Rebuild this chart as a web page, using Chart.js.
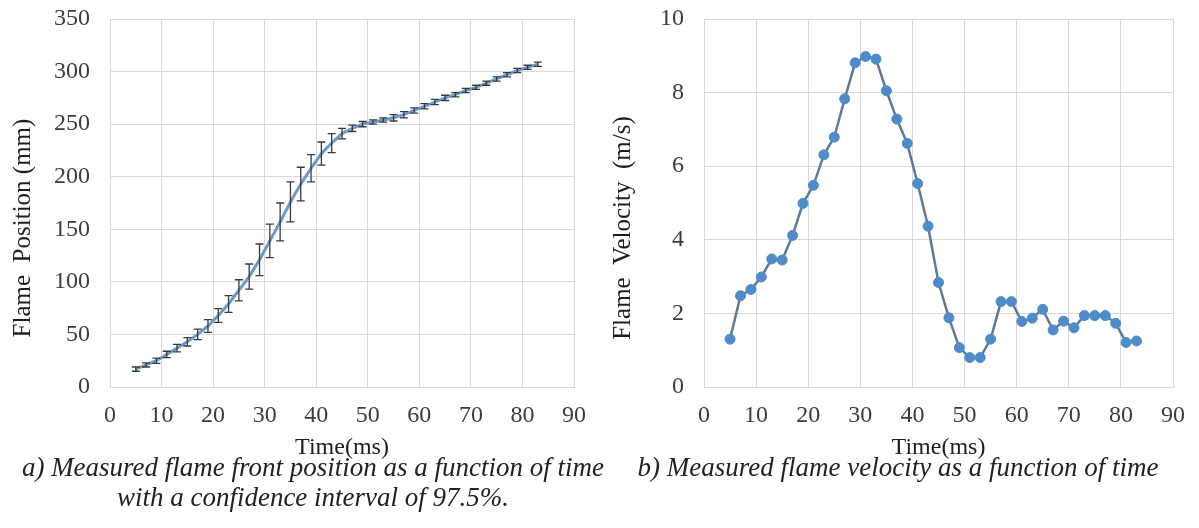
<!DOCTYPE html>
<html>
<head>
<meta charset="utf-8">
<script src="https://cdn.jsdelivr.net/npm/chart.js@4.4.1/dist/chart.umd.min.js"></script>
<style>
  body { margin: 0; background: #fff; width: 1199px; height: 528px; overflow: hidden; position: relative; font-family: "Liberation Serif", "Times New Roman", serif; }
  .box { position: absolute; top: 0; height: 462px; }
  #left { left: 0; width: 600px; }
  #right { left: 600px; width: 599px; }
  .cap { position: absolute; font-style: italic; font-size: 27px; color: #222; white-space: nowrap; text-align: center; line-height: 30px; }
</style>
</head>
<body>
<div class="box" id="left"><canvas id="posChart"></canvas></div>
<div class="box" id="right"><canvas id="velChart"></canvas></div>
<div class="cap" style="left:0;width:626px;top:452px">a) Measured flame front position as a function of time</div>
<div class="cap" style="left:0;width:626px;top:482px">with a confidence interval of 97.5%.</div>
<div class="cap" style="left:600px;width:596px;top:452px">b) Measured flame velocity as a function of time</div>

<script>
// Time (ms) of each measurement
const times = [5, 7, 9, 11, 13, 15, 17, 19, 21, 23, 25, 27, 29, 31, 33, 35, 37, 39, 41, 43,
  45, 47, 49, 51, 53, 55, 57, 59, 61, 63, 65, 67, 69, 71, 73, 75, 77, 79, 81, 83];

// Flame front position (mm) and its 97.5% confidence half-width (mm)
const position = [17, 21, 25, 31, 37, 43, 50, 58, 68, 79, 92, 105, 121, 139, 157, 176, 193, 208, 222, 232,
  241, 246, 250, 252, 254, 256, 259, 263, 267, 271, 275, 278, 282, 285, 289, 293, 297, 301, 304, 307];
const posError = [2, 2, 2.5, 3, 3.5, 4, 5, 6, 6.5, 8, 10, 12, 15, 16, 18, 19, 16, 13, 11, 9,
  5, 3, 2.5, 2, 2, 3, 3, 2.5, 2.5, 2.5, 2.5, 2, 2, 2, 2, 2, 2, 2, 2, 2];

// Flame velocity (m/s)
const velocity = [1.30, 2.48, 2.65, 2.99, 3.48, 3.45, 4.12, 4.99, 5.48, 6.31, 6.79, 7.83, 8.81, 8.98, 8.91, 8.05, 7.28, 6.62, 5.53, 4.37,
  2.84, 1.88, 1.07, 0.80, 0.80, 1.30, 2.32, 2.32, 1.78, 1.87, 2.11, 1.55, 1.79, 1.61, 1.94, 1.94, 1.94, 1.73, 1.21, 1.25];

// Axis ticks
const timeTicks = [0, 90, 10];
const posTicks = [0, 350, 50];
const velTicks = [0, 10, 2];

const serif = 'Liberation Serif';
const gridColor = '#d9d9d9';

// draws the confidence interval bars through the chart's own scales
const errorBars = {
  id: 'errorBars',
  afterDatasetsDraw(chart) {
    const { ctx, scales: { x, y } } = chart;
    ctx.save();
    ctx.strokeStyle = '#3a3a3a';
    ctx.lineWidth = 1.3;
    times.forEach((t, i) => {
      const px = x.getPixelForValue(t);
      const top = y.getPixelForValue(position[i] + posError[i]);
      const bot = y.getPixelForValue(position[i] - posError[i]);
      ctx.beginPath();
      ctx.moveTo(px, top); ctx.lineTo(px, bot);
      ctx.moveTo(px - 4, top); ctx.lineTo(px + 4, top);
      ctx.moveTo(px - 4, bot); ctx.lineTo(px + 4, bot);
      ctx.stroke();
    });
    ctx.restore();
  }
};

function makeOptions(yTicks, yTitle, yWidth) {
  return {
    responsive: true,
    maintainAspectRatio: false,
    animation: false,
    layout: { padding: { top: 19, right: 20, left: 0, bottom: 0 } },
    plugins: { legend: { display: false }, tooltip: { enabled: false } },
    scales: {
      x: {
        type: 'linear',
        min: timeTicks[0], max: timeTicks[1],
        ticks: { stepSize: timeTicks[2], color: '#3c3c3c', padding: 14, font: { family: serif, size: 24 } },
        grid: { color: gridColor, drawTicks: false },
        border: { color: gridColor },
        title: { display: true, text: 'Time(ms)', color: '#1e1e1e', font: { family: serif, size: 24 }, padding: 0 },
        afterFit: s => { s.height = 75; }
      },
      y: {
        min: yTicks[0], max: yTicks[1],
        ticks: { stepSize: yTicks[2], color: '#3c3c3c', padding: 20, font: { family: serif, size: 24 } },
        grid: { color: gridColor, drawTicks: false },
        border: { color: gridColor },
        title: { display: true, text: yTitle, color: '#1e1e1e', font: { family: serif, size: 25 }, padding: { top: 8 } },
        afterFit: s => { s.width = yWidth; s.paddingTop = 0; s.paddingBottom = 0; }
      }
    }
  };
}

new Chart(document.getElementById('posChart'), {
  type: 'line',
  data: {
    datasets: [{
      data: times.map((t, i) => ({ x: t, y: position[i] })),
      borderColor: '#6b9acb',
      borderWidth: 3,
      pointRadius: 0,
      tension: 0
    }]
  },
  options: makeOptions(posTicks, 'Flame  Position (mm)' + '\u00a0'.repeat(8), 110),
  plugins: [errorBars]
});

new Chart(document.getElementById('velChart'), {
  type: 'line',
  data: {
    datasets: [{
      data: times.map((t, i) => ({ x: t, y: velocity[i] })),
      borderColor: '#5d7b99',
      borderWidth: 2.5,
      pointRadius: 5,
      pointBackgroundColor: '#4f8bc9',
      pointBorderColor: '#4f8bc9',
      pointBorderWidth: 1,
      tension: 0
    }]
  },
  options: makeOptions(velTicks, 'Flame  Velocity  (m/s)' + '\u00a0'.repeat(8), 104)
});
</script>
</body>
</html>
